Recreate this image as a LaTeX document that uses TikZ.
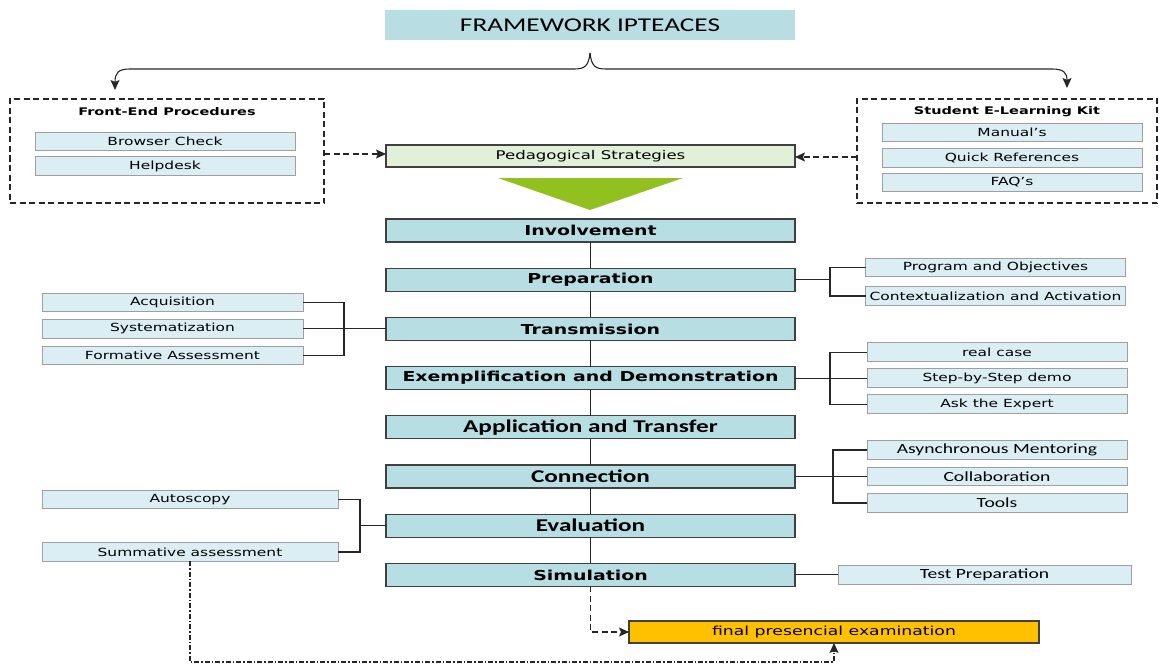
\documentclass[tikz,border=0pt]{standalone}
\usepackage{fontspec}
\setmainfont{DejaVu Sans}[FakeStretch=1.38]
\newfontfamily\calfont{Carlito}[FakeStretch=1.4]
\usepackage{tikz}
\usetikzlibrary{arrows.meta, positioning, calc}

\definecolor{titleblue}{HTML}{B8DDE3}
\definecolor{stageblue}{HTML}{B7DEE3}
\definecolor{itemblue}{HTML}{DAEEF3}
\definecolor{pedgreen}{HTML}{E2F0D9}
\definecolor{trigreen}{HTML}{92C01F}
\definecolor{examgold}{HTML}{FFC000}
\definecolor{edgegray}{HTML}{404040}

\begin{document}
\begin{tikzpicture}
        [x=1pt, y=-1pt, >={Stealth[length=10pt, width=9pt, inset=2pt]}, node distance=26.2pt,
        stage/.style={rectangle, draw=edgegray, line width=1.2pt, fill=stageblue, minimum width=409pt, minimum height=23pt, inner sep=0pt, outer sep=0pt, font=\fontsize{13.7}{15}\selectfont\bfseries},
        calstage/.style={stage, font=\fontsize{18}{20}\selectfont\calfont\bfseries},
        item/.style={rectangle, draw=gray!75, line width=0.9pt, fill=itemblue, minimum width=260pt, minimum height=18.5pt, inner sep=0pt, outer sep=0pt, font=\fontsize{11.2}{13}\selectfont},
        calitem/.style={item, font=\fontsize{14}{16}\selectfont\calfont},
        kitbox/.style={rectangle, draw=black!85, dash pattern=on 6pt off 3.5pt, line width=1.1pt, minimum height=104pt, inner sep=0pt, outer sep=0pt},
        kithead/.style={inner sep=0pt, font=\fontsize{10.5}{12}\selectfont\bfseries},
        link/.style={draw=black!85, line width=1.1pt},
        dashlink/.style={link, dash pattern=on 6pt off 3.5pt}]
        \useasboundingbox (0,0) rectangle (1159,666);

        \node[fill=titleblue, minimum width=410pt, minimum height=30pt, inner sep=0pt,
              font=\fontsize{19.5}{22}\selectfont\calfont]  (title)  at (590,25)  {FRAMEWORK IPTEACES};

        % side kits
        \node[kitbox, minimum width=314pt]  (fep)  at (167,151)  {};
        \node[kithead]  (fephead)  [below=8pt of fep.north]  {Front-End Procedures};
        \node[item]  (browser)  at (165,141.5)  {Browser Check};
        \node[item]  (help)     at (165,166)    {Helpdesk};

        \node[kitbox, minimum width=300pt]  (kit)  at (1007,151)  {};
        \node[kithead]  (kithd)  [below=7pt of kit.north]  {Student E-Learning Kit};
        \node[item]  (manual)  at (1012,132.5)  {Manual’s};
        \node[item]  (quick)   at (1012,158)    {Quick References};
        \node[item]  (faq)     at (1012,182.5)  {FAQ’s};

        \node[stage, fill=pedgreen, minimum height=22pt, font=\fontsize{12}{14}\selectfont]  (ped)  at (590.5,156)  {Pedagogical Strategies};
        \fill[trigreen] (498,178) -- (683,178) -- (590,210) -- cycle;

        % stages
        \node[stage]     (inv)    at (590.5,230.5)     {Involvement};
        \node[stage]     (prep)   [below=of inv]       {Preparation};
        \node[stage]     (trans)  [below=of prep]      {Transmission};
        \node[stage]     (exemp)  [below=of trans]     {Exemplification and Demonstration};
        \node[calstage]  (appl)   [below=of exemp]     {Application and Transfer};
        \node[calstage]  (conn)   [below=of appl]      {Connection};
        \node[calstage]  (eval)   [below=of conn]      {Evaluation};
        \node[stage]     (sim)    [below=of eval]      {Simulation};

        % right branches
        \node[item]  (prog)   at (995.5,267.5)  {Program and Objectives};
        \node[item]  (ctx)    at (995.5,296)    {Contextualization and Activation};
        \node[item]  (stepd)  [right=72pt of exemp]       {Step-by-Step demo};
        \node[item]  (real)   [above=7.5pt of stepd]      {real case};
        \node[item]  (ask)    [below=7.5pt of stepd]      {Ask the Expert};
        \node[calitem]  (collab)  [right=72pt of conn]    {Collaboration};
        \node[calitem]  (async)   [above=8pt of collab]   {Asynchronous Mentoring};
        \node[calitem]  (tools)   [below=8pt of collab]   {Tools};
        \node[calitem, minimum width=293pt]  (test)  [right=43pt of sim]  {Test Preparation};

        % left branches
        \node[item, minimum width=261pt]  (syst)   [left=83pt of trans]   {Systematization};
        \node[item, minimum width=261pt]  (acq)    [above=8pt of syst]    {Acquisition};
        \node[item, minimum width=261pt]  (form)   [below=8pt of syst]    {Formative Assessment};
        \node[item, minimum width=296pt]  (auto)   at (190,499.5)    {Autoscopy};
        \node[item, minimum width=296pt]  (summ)   at (190,552)      {Summative assessment};

        \node[stage, fill=examgold, minimum width=410pt, minimum height=22pt, font=\fontsize{12.5}{14}\selectfont]  (exam)  at (834,632)  {final presencial examination};

        \coordinate (jprep)  at ([xshift=35pt]prep.east);
        \coordinate (jexemp) at ([xshift=35pt]exemp.east);
        \coordinate (jconn)  at ([xshift=38pt]conn.east);
        \coordinate (jtrans) at ([xshift=-42pt]trans.west);
        \coordinate (jeval)  at ([xshift=-26pt]eval.west);
        \coordinate (cusp)   at (590,53);
        \coordinate (jbot)   at (834,662);

        % brace
        \draw[link, ->] (cusp) .. controls (588.5,66) and (585,69) .. (574,69) -- (130,69)
              .. controls (118,69) and (115,73) .. (115,90);
        \draw[link, ->] (cusp) .. controls (591.5,66) and (595,69) .. (606,69) -- (1052,69)
              .. controls (1064,69) and (1067,73) .. (1067,88);

        \draw[dashlink, ->] (fep.east |- 0,154) -- (ped.west |- 0,154);
        \draw[dashlink, ->] (kit.west |- 0,157) -- (ped.east |- 0,157);

        \path[link] (inv) edge (prep)
              (prep) edge (trans)
              (trans) edge (exemp)
              (exemp) edge (appl)
              (appl) edge (conn)
              (conn) edge (eval)
              (eval) edge (sim);

        \draw[link] (prep) -- (jprep);
        \draw[link] (jprep) |- (prog);
        \draw[link] (jprep) |- (ctx);
        \draw[link] (exemp) -- (stepd);
        \draw[link] (jexemp) |- (real);
        \draw[link] (jexemp) |- (ask);
        \draw[link] (conn) -- (collab);
        \draw[link] (jconn) |- (async);
        \draw[link] (jconn) |- (tools);
        \draw[link] (sim) -- (test);

        \draw[link] (acq) -| (jtrans);
        \draw[link] (form) -| (jtrans);
        \draw[link] (syst) -- (trans);
        \draw[link] (auto) -| (jeval);
        \draw[link] (summ) -| (jeval);
        \draw[link] (jeval) -- (eval);

        \draw[dashlink, ->] (sim.south) |- (exam.west);
        \draw[link, dash pattern=on 5pt off 2pt on 1.5pt off 2pt, ->] (summ.south) |- (jbot) -- (exam.south);
\end{tikzpicture}
\end{document}
